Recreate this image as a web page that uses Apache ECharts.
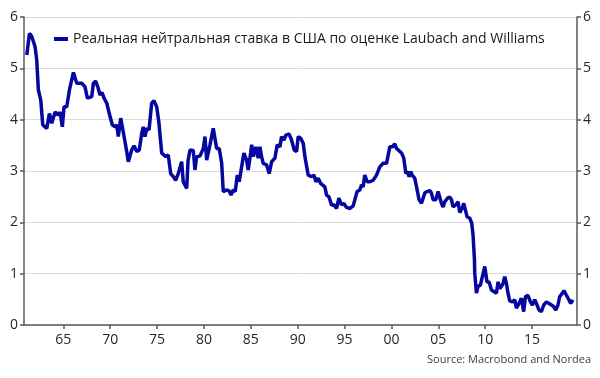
<!DOCTYPE html>
<html>
<head>
<meta charset="utf-8">
<script src="https://cdn.jsdelivr.net/npm/echarts@6/dist/echarts.min.js"></script>
<style>
  html, body { margin: 0; padding: 0; background: #fff; }
  #main { width: 600px; height: 378px; }
</style>
</head>
<body>
<div id="main"></div>
<script>
  // данные (год, %)
  var years = [
    1961.1, 1961.38, 1961.63, 1961.98, 1962.16, 1962.33, 1962.59, 1962.8, 1963.23, 1963.51,
    1963.76, 1964.12, 1964.47, 1964.65, 1964.89, 1965.07, 1965.36, 1965.65, 1966.07, 1966.43,
    1966.96, 1967.31, 1967.56, 1968.03, 1968.2, 1968.45, 1968.67, 1968.91, 1969.13, 1969.34,
    1969.63, 1969.98, 1970.22, 1970.51, 1970.69, 1970.86, 1971.12, 1971.4, 1971.76, 1971.93,
    1972.29, 1972.54, 1972.83, 1973.1, 1973.36, 1973.53, 1973.71, 1973.89, 1974.14, 1974.42,
    1974.67, 1974.96, 1975.2, 1975.49, 1975.92, 1976.19, 1976.45, 1976.73, 1976.98, 1977.26,
    1977.62, 1977.79, 1978.16, 1978.3, 1978.51, 1978.86, 1979.04, 1979.22, 1979.57, 1979.93,
    1980.11, 1980.29, 1980.46, 1980.64, 1980.99, 1981.17, 1981.35, 1981.63, 1981.89, 1982.06,
    1982.42, 1982.7, 1982.88, 1983.12, 1983.34, 1983.55, 1983.76, 1984.02, 1984.26, 1984.55,
    1984.72, 1984.98, 1985.09, 1985.26, 1985.54, 1985.79, 1985.97, 1986.15, 1986.32, 1986.68,
    1986.96, 1987.22, 1987.57, 1987.81, 1988.1, 1988.28, 1988.53, 1988.74, 1989.09, 1989.35,
    1989.63, 1989.88, 1990.05, 1990.31, 1990.59, 1990.77, 1991.12, 1991.48, 1991.73, 1991.94,
    1992.19, 1992.44, 1992.65, 1992.9, 1993.08, 1993.33, 1993.61, 1993.86, 1994.15, 1994.39,
    1994.68, 1994.93, 1995.21, 1995.57, 1995.92, 1996.1, 1996.34, 1996.63, 1996.81, 1996.98,
    1997.16, 1997.41, 1997.7, 1998.05, 1998.41, 1998.76, 1999.12, 1999.48, 1999.83, 2000.12,
    2000.36, 2000.54, 2000.71, 2001.08, 2001.32, 2001.54, 2001.72, 2001.89, 2002.07, 2002.21,
    2002.49, 2002.68, 2002.95, 2003.21, 2003.38, 2003.56, 2003.81, 2004.09, 2004.27, 2004.45,
    2004.73, 2004.98, 2005.09, 2005.34, 2005.51, 2005.69, 2005.98, 2006.23, 2006.41, 2006.58,
    2006.87, 2007.11, 2007.29, 2007.58, 2007.72, 2007.93, 2008.07, 2008.36, 2008.57, 2008.71,
    2008.86, 2008.89, 2009.07, 2009.24, 2009.5, 2009.71, 2009.96, 2010.2, 2010.42, 2010.67,
    2010.95, 2011.2, 2011.38, 2011.56, 2011.74, 2011.91, 2012.09, 2012.27, 2012.44, 2012.62,
    2012.91, 2013.16, 2013.34, 2013.61, 2013.87, 2014.11, 2014.3, 2014.57, 2014.83, 2015.04,
    2015.29, 2015.47, 2015.75, 2016.0, 2016.25, 2016.54, 2016.81, 2017.07, 2017.31, 2017.53,
    2017.77, 2017.95, 2018.24, 2018.41, 2018.67, 2018.94, 2019.13, 2019.37
  ]
  var rates = [
    5.26, 5.68, 5.62, 5.42, 5.16, 4.58, 4.38, 3.90, 3.83, 4.12,
    3.93, 4.15, 4.09, 4.15, 3.86, 4.25, 4.25, 4.58, 4.92, 4.71,
    4.71, 4.64, 4.42, 4.45, 4.71, 4.75, 4.64, 4.48, 4.53, 4.42,
    4.32, 4.06, 3.90, 3.86, 3.90, 3.67, 4.03, 3.75, 3.38, 3.18,
    3.41, 3.49, 3.38, 3.41, 3.73, 3.86, 3.67, 3.83, 3.80, 4.32,
    4.37, 4.25, 3.93, 3.35, 3.28, 3.31, 2.95, 2.89, 2.82, 2.95,
    3.18, 2.79, 2.66, 3.20, 3.41, 3.40, 3.02, 3.28, 3.29, 3.44,
    3.67, 3.21, 3.18, 3.51, 3.83, 3.86, 3.44, 3.44, 3.15, 2.60,
    2.63, 2.61, 2.53, 2.63, 2.60, 2.92, 2.79, 3.08, 3.35, 3.21,
    3.02, 3.35, 3.51, 3.28, 3.47, 3.25, 3.47, 3.28, 3.15, 3.12,
    2.95, 3.18, 3.25, 3.51, 3.47, 3.67, 3.60, 3.70, 3.72, 3.60,
    3.41, 3.38, 3.67, 3.64, 3.54, 3.28, 2.92, 2.89, 2.92, 2.79,
    2.86, 2.76, 2.76, 2.69, 2.53, 2.50, 2.34, 2.34, 2.27, 2.47,
    2.34, 2.37, 2.29, 2.27, 2.32, 2.34, 2.60, 2.63, 2.73, 2.69,
    2.92, 2.79, 2.79, 2.82, 2.92, 3.08, 3.15, 3.15, 3.47, 3.47,
    3.53, 3.44, 3.44, 3.35, 3.25, 2.95, 2.99, 2.89, 2.99, 2.92,
    2.86, 2.69, 2.44, 2.37, 2.37, 2.57, 2.60, 2.62, 2.57, 2.44,
    2.44, 2.60, 2.63, 2.37, 2.30, 2.40, 2.47, 2.49, 2.44, 2.30,
    2.34, 2.40, 2.19, 2.29, 2.37, 2.40, 2.11, 2.08, 1.98, 1.75,
    1.27, 1.01, 0.62, 0.75, 0.78, 0.75, 1.14, 0.84, 0.84, 0.68,
    0.65, 0.62, 0.84, 0.71, 0.75, 0.81, 0.94, 0.81, 0.62, 0.47,
    0.45, 0.49, 0.33, 0.42, 0.52, 0.26, 0.55, 0.58, 0.45, 0.39,
    0.49, 0.42, 0.29, 0.26, 0.39, 0.45, 0.42, 0.39, 0.36, 0.29,
    0.39, 0.55, 0.62, 0.67, 0.58, 0.49, 0.42, 0.49
  ]
  var xTicks = [1965, 1970, 1975, 1980, 1985, 1990, 1995, 2000, 2005, 2010, 2015]
  var seriesName = 'Реальная нейтральная ставка в США по оценке Laubach and Williams'

  var myChart = echarts.init(document.getElementById('main'))

  var data = []
  for (var i = 0; i < years.length; i++) {
    data.push([years[i], rates[i]])
  }

  var font = 'Open Sans'
  var axisColor = '#5a5a5a'
  var yAxisBase = {
    type: 'value',
    min: 0,
    max: 6,
    interval: 1,
    axisLine: { show: true, lineStyle: { color: axisColor, width: 1.5 } },
    axisTick: { show: true, length: 4, lineStyle: { color: axisColor, width: 1.5 } },
    axisLabel: { color: '#262626', fontSize: 14, fontFamily: font, margin: 6 },
  }

  var option = {
    animation: false,
    grid: { left: 24, right: 23, top: 17, bottom: 53 },
    legend: {
      left: 49,
      top: 27,
      icon: 'rect',
      itemWidth: 14,
      itemHeight: 4,
      itemGap: 4,
      textStyle: { color: '#1a1a1a', fontSize: 14, fontFamily: font },
      data: [seriesName],
    },
    xAxis: {
      type: 'value',
      min: 1960.8,
      max: 2019.8,
      axisLine: { lineStyle: { color: axisColor, width: 1.5 } },
      axisTick: { show: true, length: 4, customValues: xTicks, lineStyle: { color: axisColor, width: 1.5 } },
      axisLabel: {
        customValues: xTicks,
        color: '#262626',
        fontSize: 14,
        fontFamily: font,
        margin: 8,
        formatter: function (v) {
          return String(Math.round(v)).slice(2)
        },
      },
      splitLine: { show: false },
    },
    yAxis: [
      Object.assign({}, yAxisBase, {
        position: 'left',
        splitLine: { show: true, lineStyle: { color: '#dcdcdc', width: 1 } },
      }),
      Object.assign({}, yAxisBase, {
        position: 'right',
        splitLine: { show: false },
      }),
    ],
    graphic: [
      {
        type: 'text',
        right: 9,
        top: 354,
        style: { text: 'Source: Macrobond and Nordea', fill: '#404040', fontSize: 11, fontFamily: font },
      },
    ],
    series: [
      {
        name: seriesName,
        type: 'line',
        showSymbol: false,
        data: data,
        lineStyle: { color: '#0606a0', width: 3.5 },
        itemStyle: { color: '#0606a0' },
      },
    ],
  }

  myChart.setOption(option)
</script>
</body>
</html>
